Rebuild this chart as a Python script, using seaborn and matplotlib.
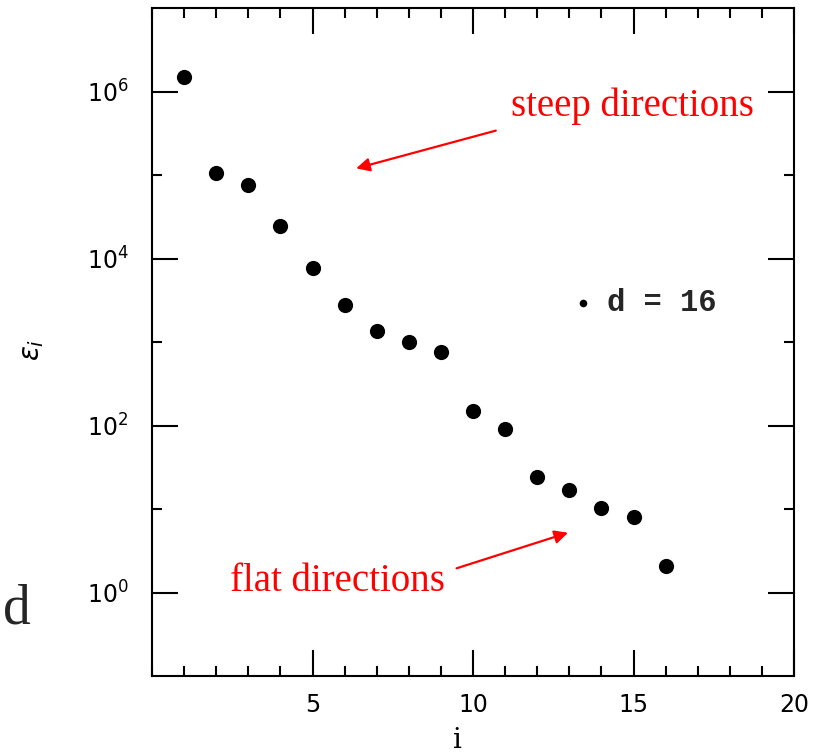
import numpy as np
import matplotlib
matplotlib.use("Agg")
import matplotlib.pyplot as plt
from matplotlib.ticker import FixedLocator, MultipleLocator, NullFormatter
import seaborn as sns

# eigenvalue spectrum, d = 16
idx = [1, 2, 3, 4, 5, 6, 7, 8, 9, 10, 11, 12, 13, 14, 15, 16]
eps = [1.48e6, 1.06e5, 7.55e4, 2.48e4, 7.6e3, 2.81e3, 1.34e3, 1.0e3, 762,
       151, 91.4, 24.5, 16.8, 10.4, 8.05, 2.07]
series_label = "d = 16"
y_major = [1e0, 1e2, 1e4, 1e6]
y_minor = [1e1, 1e3, 1e5]
y_ticklabels = [r"$10^{0}$", r"$10^{2}$", r"$10^{4}$", r"$10^{6}$"]
x_major = [5, 10, 15, 20]

sns.set_style("ticks")

fig = plt.figure(figsize=(8.25, 7.52), dpi=100)
ax = fig.add_axes([152/825, 1-676/752, 642/825, 668/752])

sns.scatterplot(x=idx, y=eps, color="black", s=120, linewidth=0,
                label=series_label, ax=ax, zorder=3)

ax.set_yscale("log")
ax.set_xlim(0, 20)
ax.set_ylim(1e-1, 1e7)

ax.yaxis.set_major_locator(FixedLocator(y_major))
ax.yaxis.set_minor_locator(FixedLocator(y_minor))
ax.yaxis.set_minor_formatter(NullFormatter())
ax.set_yticklabels(y_ticklabels)
ax.xaxis.set_major_locator(FixedLocator(x_major))
ax.xaxis.set_minor_locator(MultipleLocator(1))

for sp in ax.spines.values():
    sp.set_visible(True)
    sp.set_linewidth(1.5)
    sp.set_color("black")

ax.tick_params(which="both", direction="in", top=True, right=True, width=1.5,
               color="black", labelcolor="black")
ax.tick_params(which="major", length=19)
ax.tick_params(which="minor", length=7)
ax.tick_params(axis="y", which="major", pad=17, labelsize=17)
ax.tick_params(axis="x", which="major", pad=12, labelsize=17)

ax.set_xlabel("i", fontsize=20, family="DejaVu Serif", color="black", va="center")
ax.set_ylabel(r"$\epsilon_{i}$", fontsize=20, color="black", va="center")
ax.xaxis.set_label_coords(0.475, -0.096)
ax.yaxis.set_label_coords(-0.187, 0.488)

# annotations
ax.annotate("", xy=(6.36, 1.2e5), xytext=(10.71, 3.4e5),
            arrowprops=dict(arrowstyle="-|>", color="red", lw=1.6,
                            mutation_scale=20, shrinkA=0, shrinkB=0))
ax.annotate("", xy=(12.96, 5.2), xytext=(9.49, 1.95),
            arrowprops=dict(arrowstyle="-|>", color="red", lw=1.6,
                            mutation_scale=20, shrinkA=0, shrinkB=0))
ax.text(14.97, 5.02e5, "steep directions", color="red", fontsize=28,
        family="Liberation Serif", ha="center", va="baseline")
ax.text(5.78, 1.03, "flat directions", color="red", fontsize=28,
        family="Liberation Serif", ha="center", va="baseline")

leg = ax.legend(loc="center left", bbox_to_anchor=(0.659, 0.558), frameon=False,
                markerscale=0.5, handlelength=0.5, handletextpad=0.55,
                borderpad=0, borderaxespad=0,
                prop=dict(family="Liberation Mono", weight="bold", size=22))

fig.text(17/825, 1-609/752, "d", fontsize=40, family="Liberation Serif",
         ha="center", va="center")

fig.savefig("out.png", dpi=100)
